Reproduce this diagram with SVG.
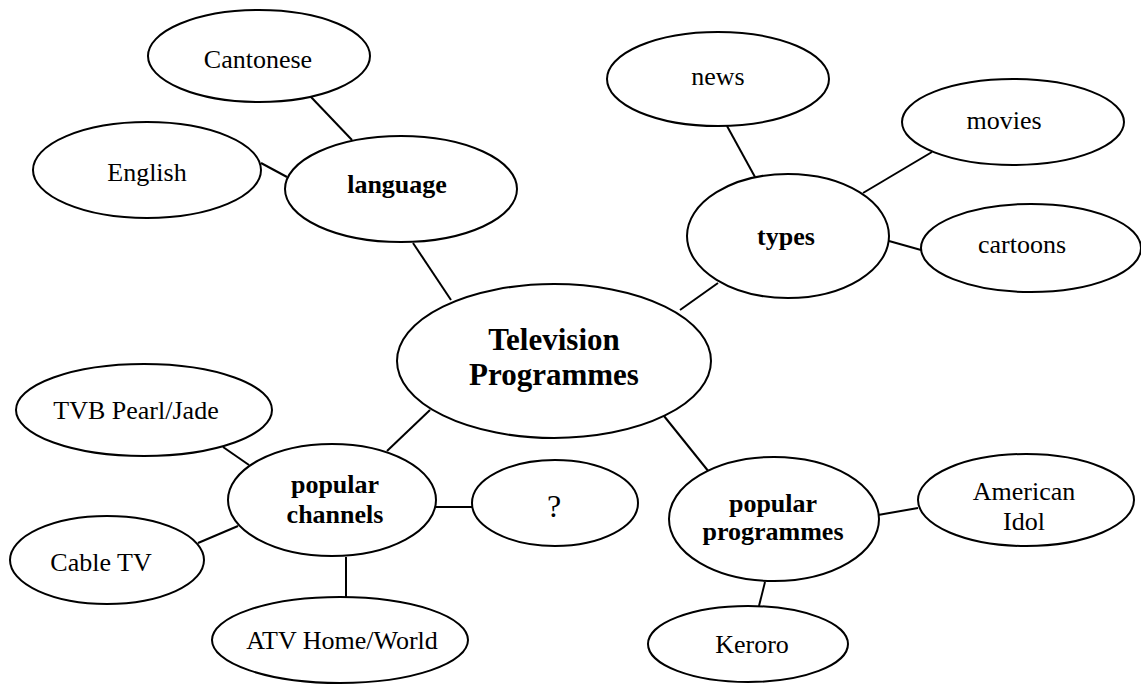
<svg xmlns="http://www.w3.org/2000/svg" width="1141" height="684" viewBox="0 0 1141 684">
<style>
.n ellipse{fill:#fff;stroke:#000;stroke-width:2}
.c line{stroke:#000;stroke-width:2}
text{font-family:"Liberation Serif","Times New Roman",serif;font-size:26px;fill:#000;text-anchor:middle}
.b{font-weight:bold}
.t{font-weight:bold;font-size:31px}
.q{font-size:32px}
</style>
<rect width="1141" height="684" fill="#fff"/>
<g id="connectors" class="c">
<line x1="311" y1="97" x2="352" y2="140"/>
<line x1="261" y1="163" x2="287" y2="177"/>
<line x1="413" y1="243" x2="451" y2="300"/>
<line x1="727" y1="126" x2="755" y2="177"/>
<line x1="932" y1="152" x2="863" y2="193"/>
<line x1="921" y1="250" x2="889" y2="241"/>
<line x1="718" y1="283" x2="680" y2="310"/>
<line x1="430" y1="410" x2="387" y2="451"/>
<line x1="223" y1="447" x2="249" y2="465"/>
<line x1="198" y1="543" x2="238" y2="526"/>
<line x1="346" y1="557" x2="346" y2="597"/>
<line x1="436" y1="507" x2="472" y2="507"/>
<line x1="664" y1="416" x2="709" y2="472"/>
<line x1="878" y1="515" x2="918" y2="508"/>
<line x1="765" y1="582" x2="759" y2="606"/>
</g>
<g id="cantonese" class="n"><ellipse cx="259" cy="56" rx="111" ry="46"/><text x="258" y="68">Cantonese</text></g>
<g id="english" class="n"><ellipse cx="147" cy="170" rx="114" ry="48"/><text x="147" y="181">English</text></g>
<g id="language" class="n"><ellipse cx="401" cy="189" rx="116" ry="53"/><text class="b" x="397" y="193">language</text></g>
<g id="news" class="n"><ellipse cx="718" cy="79" rx="111" ry="47"/><text x="718" y="85">news</text></g>
<g id="movies" class="n"><ellipse cx="1013" cy="122" rx="111" ry="43"/><text x="1004" y="129">movies</text></g>
<g id="types" class="n"><ellipse cx="788" cy="236" rx="101" ry="62"/><text class="b" x="786" y="245">types</text></g>
<g id="cartoons" class="n"><ellipse cx="1031" cy="248" rx="110" ry="44"/><text x="1022" y="253">cartoons</text></g>
<g id="television" class="n"><ellipse cx="554" cy="361" rx="157" ry="77"/><text class="t" x="554" y="350">Television</text><text class="t" x="554" y="385">Programmes</text></g>
<g id="tvb" class="n"><ellipse cx="144" cy="410" rx="128" ry="46"/><text x="136" y="419">TVB Pearl/Jade</text></g>
<g id="popular-channels" class="n"><ellipse cx="332" cy="500" rx="104" ry="56"/><text class="b" x="335" y="493">popular</text><text class="b" x="335" y="523">channels</text></g>
<g id="question" class="n"><ellipse cx="555" cy="503" rx="83" ry="43"/><text class="q" x="554" y="517">?</text></g>
<g id="cable" class="n"><ellipse cx="107" cy="560" rx="97" ry="44"/><text x="101" y="571">Cable TV</text></g>
<g id="atv" class="n"><ellipse cx="340" cy="640" rx="128" ry="43"/><text x="342" y="649">ATV Home/World</text></g>
<g id="popular-programmes" class="n"><ellipse cx="774" cy="519" rx="105" ry="62"/><text class="b" x="773" y="512">popular</text><text class="b" x="773" y="540">programmes</text></g>
<g id="american-idol" class="n"><ellipse cx="1026" cy="500" rx="108" ry="46"/><text x="1024" y="500">American</text><text x="1024" y="530">Idol</text></g>
<g id="keroro" class="n"><ellipse cx="748" cy="644" rx="100" ry="38"/><text x="752" y="653">Keroro</text></g>
</svg>
